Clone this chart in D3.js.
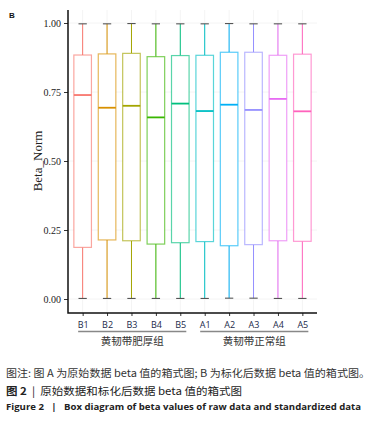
<!DOCTYPE html>
<html>
<head>
<meta charset="utf-8">
<script src="https://cdn.jsdelivr.net/npm/d3@7"></script>
<style>
  body { margin: 0; background: #fff; }
  svg { display: block; }
  .cap { white-space: pre; }
</style>
</head>
<body>
<div id="chart"></div>
<script>
// Box summaries (Beta_Norm per sample)
const samples = ["B1", "B2", "B3", "B4", "B5", "A1", "A2", "A3", "A4", "A5"];
const lowWhisker = [0.002, 0.002, 0.002, 0.002, 0.002, 0.002, 0.003, 0.003, 0.002, 0.002];
const q1 = [0.187, 0.214, 0.211, 0.199, 0.204, 0.208, 0.193, 0.197, 0.211, 0.209];
const median = [0.739, 0.693, 0.700, 0.658, 0.708, 0.681, 0.704, 0.685, 0.725, 0.680];
const q3 = [0.884, 0.888, 0.890, 0.878, 0.882, 0.883, 0.894, 0.894, 0.883, 0.887];
const highWhisker = [0.997, 0.997, 0.998, 0.997, 0.997, 0.997, 0.998, 0.997, 0.997, 0.997];
const colors = ["#F8766D", "#D89000", "#A3A500", "#39B600", "#00BF7D",
                "#00BFC4", "#00B0F6", "#9590FF", "#E76BF3", "#FF62BC"];
const yTicks = [0, 0.25, 0.5, 0.75, 1];
const groups = [
  { name: "黄韧带肥厚组", members: ["B1", "B2", "B3", "B4", "B5"] },
  { name: "黄韧带正常组", members: ["A1", "A2", "A3", "A4", "A5"] }
];

const W = 377, H = 423;
const svg = d3.select("#chart").append("svg")
  .attr("width", W).attr("height", H);

// panel box
const pLeft = 68, pRight = 317, pTop = 10, pBottom = 313;

const y = d3.scaleLinear().domain([0, 1]).range([299, 23]);
// discrete axis with ggplot-like 0.6 expansion
const x = d3.scalePoint().domain(samples).range([pLeft, pRight]).padding(0.6);
const unit = x.step();
const boxW = unit * 0.72;

const data = samples.map((s, i) => ({
  s, lo: lowWhisker[i], q1: q1[i], med: median[i], q3: q3[i], hi: highWhisker[i], c: colors[i]
}));

// faint grid
svg.append("g").selectAll("line").data(samples).enter().append("line")
  .attr("x1", d => x(d)).attr("x2", d => x(d))
  .attr("y1", pTop).attr("y2", pBottom)
  .attr("stroke", "#f4f4f4").attr("stroke-width", 1);
svg.append("g").selectAll("line").data(yTicks).enter().append("line")
  .attr("x1", pLeft).attr("x2", pRight)
  .attr("y1", d => y(d)).attr("y2", d => y(d))
  .attr("stroke", "#f4f4f4").attr("stroke-width", 1);

const g = svg.append("g").selectAll("g").data(data).enter().append("g");

// whiskers
g.append("line")
  .attr("x1", d => x(d.s)).attr("x2", d => x(d.s))
  .attr("y1", d => y(d.hi)).attr("y2", d => y(d.q3))
  .attr("stroke", d => d.c).attr("stroke-width", 1);
g.append("line")
  .attr("x1", d => x(d.s)).attr("x2", d => x(d.s))
  .attr("y1", d => y(d.q1)).attr("y2", d => y(d.lo))
  .attr("stroke", d => d.c).attr("stroke-width", 1);
// caps
g.append("line")
  .attr("x1", d => x(d.s) - unit * 0.17).attr("x2", d => x(d.s) + unit * 0.17)
  .attr("y1", d => y(d.hi)).attr("y2", d => y(d.hi))
  .attr("stroke", "#555").attr("stroke-width", 1.1);
g.append("line")
  .attr("x1", d => x(d.s) - unit * 0.17).attr("x2", d => x(d.s) + unit * 0.17)
  .attr("y1", d => y(d.lo)).attr("y2", d => y(d.lo))
  .attr("stroke", "#555").attr("stroke-width", 1.1);
// boxes
g.append("rect")
  .attr("x", d => x(d.s) - boxW / 2).attr("width", boxW)
  .attr("y", d => y(d.q3)).attr("height", d => y(d.q1) - y(d.q3))
  .attr("fill", "#fff").attr("stroke", d => d.c)
  .attr("stroke-opacity", 0.65).attr("stroke-width", 1.2);
// medians
g.append("line")
  .attr("x1", d => x(d.s) - boxW / 2).attr("x2", d => x(d.s) + boxW / 2)
  .attr("y1", d => y(d.med)).attr("y2", d => y(d.med))
  .attr("stroke", d => d.c).attr("stroke-width", 1.8);

// axes
const yAxis = svg.append("g")
  .attr("transform", `translate(${pLeft},0)`)
  .call(d3.axisLeft(y).tickValues(yTicks).tickFormat(d3.format(".2f")).tickSize(4).tickSizeOuter(0));
yAxis.select(".domain").remove();
yAxis.selectAll(".tick line").attr("stroke", "#333");
yAxis.selectAll("text")
  .style("font-family", "Liberation Serif, serif").style("font-size", "10px").attr("fill", "#222");

const xAxis = svg.append("g")
  .attr("transform", `translate(0,${pBottom})`)
  .call(d3.axisBottom(x).tickSize(3).tickSizeOuter(0));
xAxis.select(".domain").remove();
xAxis.selectAll(".tick line").attr("stroke", "#333");
xAxis.selectAll("text")
  .attr("dy", "0.95em")
  .style("font-family", "Open Sans, sans-serif").style("font-size", "9px").attr("fill", "#1c2a4a");

svg.append("path")
  .attr("d", `M${pLeft},${pTop}V${pBottom}H${pRight}`)
  .attr("fill", "none").attr("stroke", "#111").attr("stroke-width", 1.5);

// y title
svg.append("text")
  .attr("transform", `translate(42,${(y(0) + y(1)) / 2}) rotate(-90)`)
  .attr("text-anchor", "middle")
  .style("font-family", "Liberation Serif, serif").style("font-size", "13px")
  .attr("fill", "#222").text("Beta_Norm");

// group brackets
groups.forEach(gr => {
  const x0 = x(gr.members[0]) - 4.5, x1 = x(gr.members[gr.members.length - 1]) + 6;
  svg.append("line").attr("x1", x0).attr("x2", x1).attr("y1", 331.5).attr("y2", 331.5)
    .attr("stroke", "#888").attr("stroke-width", 1.3);
  svg.append("text").attr("x", (x0 + x1) / 2).attr("y", 345)
    .attr("text-anchor", "middle")
    .style("font-family", "Noto Sans CJK SC").style("font-size", "10.5px")
    .attr("fill", "#333").text(gr.name);
});

// panel letter
svg.append("text").attr("x", 9).attr("y", 18)
  .style("font-family", "Liberation Sans, sans-serif").style("font-size", "8px")
  .style("font-weight", "bold").attr("fill", "#111").text("B");

// caption
svg.append("text").attr("class", "cap").attr("x", 6).attr("y", 377)
  .attr("textLength", 364).attr("lengthAdjust", "spacingAndGlyphs")
  .style("font-family", "Noto Sans CJK SC").style("font-size", "10px").attr("fill", "#333")
  .text("图注: 图 A 为原始数据 beta 值的箱式图; B 为标化后数据 beta 值的箱式图。");
const cap2 = svg.append("text").attr("class", "cap").attr("x", 6).attr("y", 395)
  .attr("textLength", 236).attr("lengthAdjust", "spacingAndGlyphs")
  .style("font-family", "Noto Sans CJK SC").style("font-size", "10.5px").attr("fill", "#222");
cap2.append("tspan").style("font-weight", "bold").text("图 2");
cap2.append("tspan").text("  |  原始数据和标化后数据 beta 值的箱式图");
svg.append("text").attr("class", "cap").attr("x", 6).attr("y", 410)
  .attr("textLength", 355).attr("lengthAdjust", "spacingAndGlyphs")
  .style("font-family", "Open Sans, sans-serif").style("font-size", "9px")
  .style("font-weight", "bold").attr("fill", "#222")
  .text("Figure 2   |   Box diagram of beta values of raw data and standardized data");
</script>
</body>
</html>
